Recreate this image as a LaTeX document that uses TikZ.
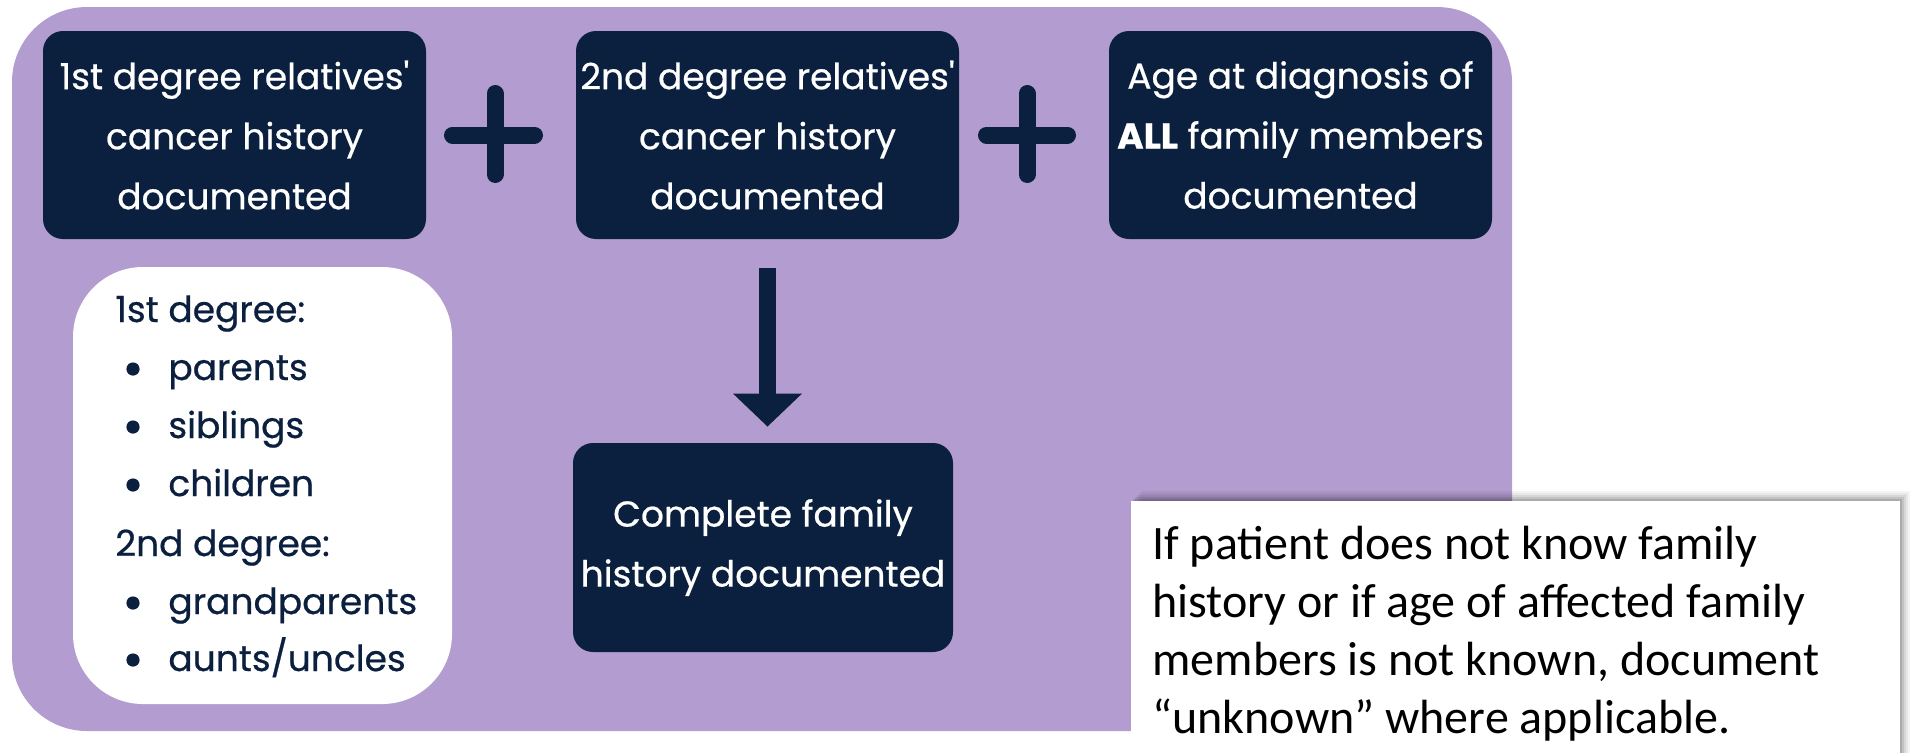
\documentclass[tikz,border=0pt]{standalone}
\usepackage{fontspec}
\newfontfamily\boxfont[FakeBold=0.6]{Poppins}
\newfontfamily\notefont{Carlito}
\usetikzlibrary{arrows.meta}
\definecolor{navy}{RGB}{11,31,62}
\definecolor{lilac}{RGB}{179,156,208}
\begin{document}
\begin{tikzpicture}[x=0.5pt,y=-0.5pt,
  darkbox/.style={fill=navy, rounded corners=10pt, minimum width=191.5pt, minimum height=104pt,
    text=white, align=center, inner sep=0pt, font=\boxfont\fontsize{18pt}{30pt}\selectfont},
  listline/.style={anchor=base west, inner sep=0pt, text=navy, font=\boxfont\fontsize{18pt}{29pt}\selectfont},
  noteline/.style={anchor=base west, inner sep=0pt, text=black, font=\notefont\fontsize{24pt}{29pt}\selectfont},
  plusbar/.style={navy, line width=8.5pt, line cap=round}]
\useasboundingbox (0,0) rectangle (1911,752);
\fill[white] (0,0) rectangle (1911,752);
% purple panel
\node[fill=lilac, rounded corners=37.5pt, minimum width=750pt, minimum height=362pt, inner sep=0pt] (panel) at (762,369) {};
% dark boxes
\node[darkbox] (b1) at (234.5,135) {1st degree relatives'\\cancer history\\documented};
\node[darkbox] (b2) at (767.5,135) {2nd degree relatives'\\cancer history\\documented};
\node[darkbox] (b3) at (1300.5,135) {Age at diagnosis of\\\textbf{ALL} family members\\documented};
\node[darkbox, minimum width=190pt, minimum height=104.5pt] (b4) at (763,547.5) {Complete family\\history documented};
% plus signs
\draw[plusbar] (452.5,135) -- (534.5,135);
\draw[plusbar] (495,93.5) -- (495,174.5);
\draw[plusbar] (986.5,135) -- (1067.5,135);
\draw[plusbar] (1027,93.5) -- (1027,174.5);
% arrow
\draw[navy, line width=8.5pt, shorten <=14.5pt, shorten >=8pt, -{Triangle[length=16.5pt, width=33.5pt]}]
  (b2.south) -- (b2.south |- b4.north);
% white list box
\node[fill=white, rounded corners=35pt, minimum width=189.5pt, minimum height=218.5pt, inner sep=0pt] (list) at (262.5,485.5) {};
\node[listline] (l1) at (115,322) {1st degree:};
\node[listline] (l2) at (168,380) {parents};
\node[listline] (l3) at (168,438) {siblings};
\node[listline] (l4) at (168,496) {children};
\node[listline] (l5) at (115,556) {2nd degree:};
\node[listline] (l6) at (168,614) {grandparents};
\node[listline] (l7) at (168,671) {aunts/uncles};
\foreach \b in {380,438,496,614,671}
  \fill[navy] (133,\b-11) circle[radius=3.3pt];
% note box with shadow
\foreach \d/\o in {10/0.04, 8/0.05, 6/0.07, 4/0.09, 2/0.12}
  \fill[black, opacity=\o] (1131+\d,501-\d) rectangle (1900+\d,760);
\node[fill=white, minimum width=384.5pt, minimum height=130pt, inner sep=0pt, anchor=north west] (note) at (1131,501) {};
\node[noteline] (n1) at (1152,559) {If patient does not know family};
\node[noteline] (n2) at (1152,617) {history or if age of affected family};
\node[noteline] (n3) at (1152,675) {members is not known, document};
\node[noteline] (n4) at (1152,733) {“unknown” where applicable.};
\end{tikzpicture}
\end{document}
